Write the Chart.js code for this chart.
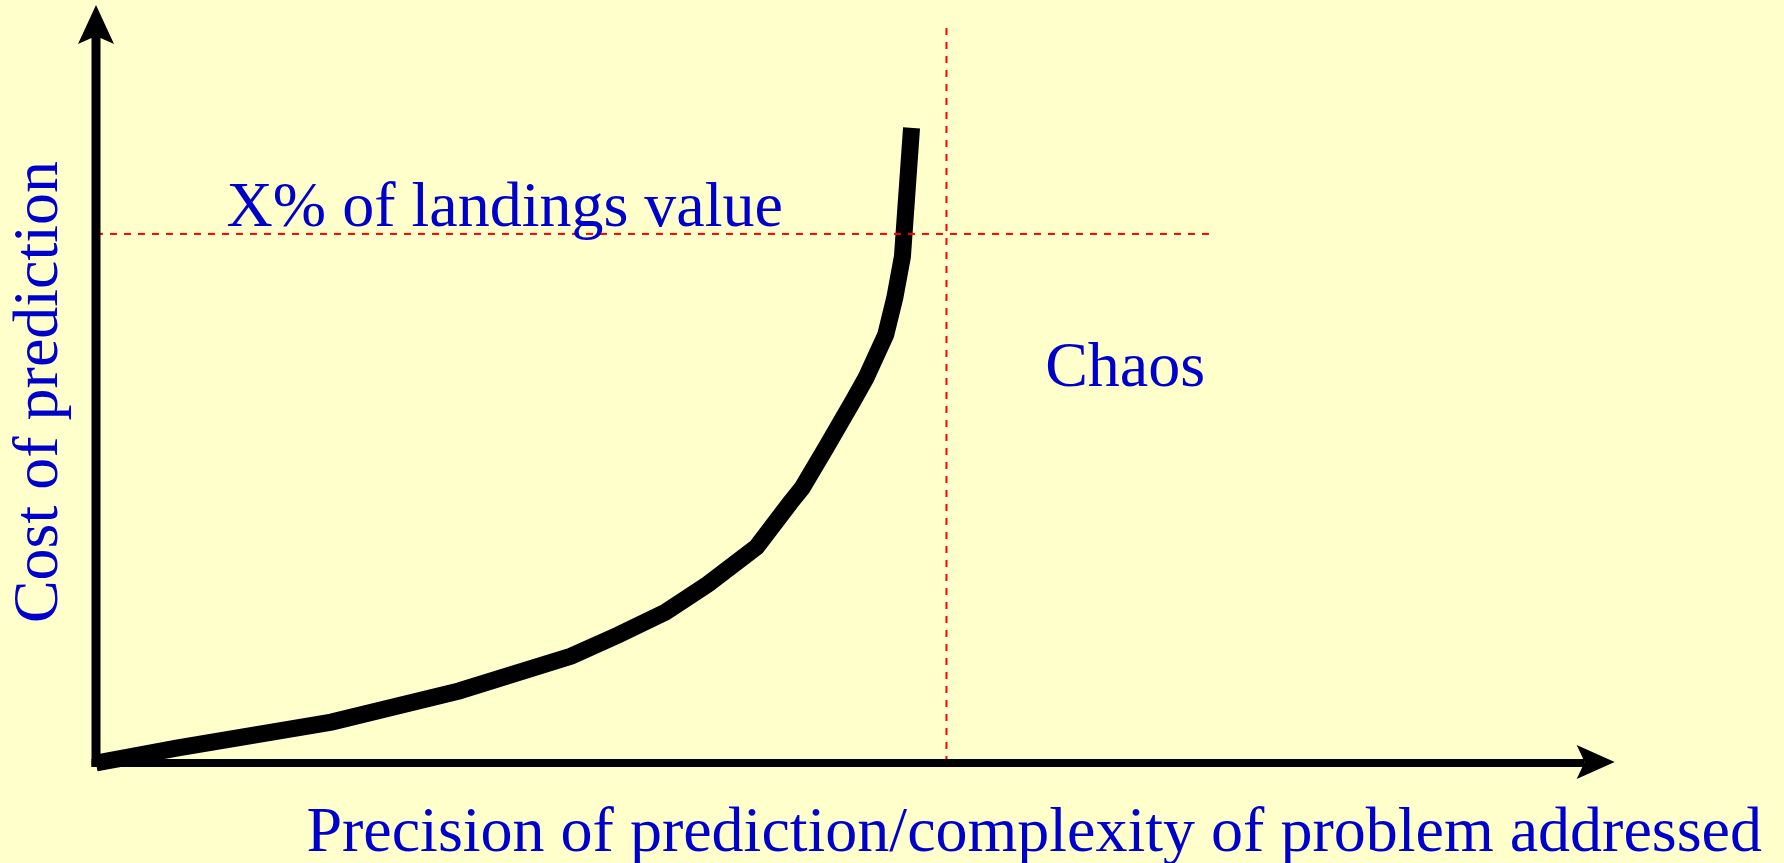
<!DOCTYPE html>
<html>
<head>
<meta charset="utf-8">
<script src="https://cdn.jsdelivr.net/npm/chart.js@4/dist/chart.umd.min.js"></script>
<style>
  html, body { margin: 0; padding: 0; background: #FFFFCC; }
  #wrap { width: 1784px; height: 863px; position: relative; }
</style>
</head>
<body>
<div id="wrap"><canvas id="c" width="1784" height="863"></canvas></div>
<script>
// ---- data (x = precision/complexity, y = cost, arbitrary 0-100 units) ----
const curveX = [0, 5.4, 15.5, 23.9, 31.3, 34.4, 37.5, 40.3, 43.5, 45.7, 46.5, 48.1, 49.8, 50.7, 52.0, 52.6, 53.1, 53.7];
const curveY = [0, 2.0, 5.4, 9.5, 14.1, 16.9, 19.9, 23.6, 28.5, 34.3, 36.3, 41.7, 47.6, 50.8, 56.5, 61.4, 66.8, 83.8];

const thresholdY = 69.8;          // "X% of landings value" level
const thresholdXRange = [0, 73.4];
const chaosX = 56.0;              // onset of chaos
const chaosYRange = [0, 97.6];

const xAxisMax = 109.7;
const yAxisMax = 100;
const xArrowTip = 100;
const yArrowTip = 100;

const xTitle = 'Precision of prediction/complexity of problem addressed';
const yTitle = 'Cost of prediction ';
const labelTexts = ['X% of landings value', 'Chaos'];
const labelX = [8.6, 62.5];
const labelY = [70.8, 49.7];

// ---- styles ----
const BLUE = '#0000CC';
const RED = '#FF0000';
const FONT = '"Liberation Serif", "Times New Roman", "DejaVu Serif", serif';

const curveData = curveX.map((x, i) => ({ x, y: curveY[i] }));
const hLine = thresholdXRange.map(x => ({ x, y: thresholdY }));
const vLine = chaosYRange.map(y => ({ x: chaosX, y }));

const bgPlugin = {
  id: 'bg',
  beforeDraw(chart) {
    const ctx = chart.ctx;
    ctx.save();
    ctx.fillStyle = '#FFFFCC';
    ctx.fillRect(0, 0, chart.width, chart.height);
    ctx.restore();
  }
};

const axesPlugin = {
  id: 'arrowAxes',
  afterDatasetsDraw(chart) {
    const ctx = chart.ctx;
    const xs = chart.scales.x, ys = chart.scales.y;
    const x0 = xs.getPixelForValue(0), y0 = ys.getPixelForValue(0);
    const xt = xs.getPixelForValue(xArrowTip), yt = ys.getPixelForValue(yArrowTip);
    ctx.save();
    ctx.fillStyle = '#000';
    // y axis shaft
    ctx.fillRect(x0 - 4.5, yt + 30, 9, (y0 + 4) - (yt + 30));
    // x axis shaft
    ctx.fillRect(x0 - 4.5, y0 - 4, (xt - 30) - (x0 - 4.5), 8);
    // y arrowhead
    ctx.beginPath();
    ctx.moveTo(x0, yt);
    ctx.lineTo(x0 + 18, yt + 39);
    ctx.lineTo(x0, yt + 31);
    ctx.lineTo(x0 - 18, yt + 39);
    ctx.closePath();
    ctx.fill();
    // x arrowhead
    ctx.beginPath();
    ctx.moveTo(xt, y0 - 1);
    ctx.lineTo(xt - 38, y0 - 18);
    ctx.lineTo(xt - 30, y0 - 1);
    ctx.lineTo(xt - 38, y0 + 16);
    ctx.closePath();
    ctx.fill();
    ctx.restore();
  },
  afterDraw(chart) {
    const ctx = chart.ctx;
    const xs = chart.scales.x, ys = chart.scales.y;
    ctx.save();
    ctx.fillStyle = BLUE;
    ctx.font = '64px ' + FONT;
    ctx.textBaseline = 'alphabetic';
    ctx.textAlign = 'left';
    labelTexts.forEach((t, i) => {
      ctx.fillText(t, xs.getPixelForValue(labelX[i]), ys.getPixelForValue(labelY[i]));
    });
    ctx.restore();
  }
};

new Chart(document.getElementById('c'), {
  type: 'scatter',
  data: {
    datasets: [
      { data: hLine, showLine: true, borderColor: RED, borderWidth: 2, borderDash: [7, 7],
        pointRadius: 0, clip: false, order: 0 },
      { data: vLine, showLine: true, borderColor: RED, borderWidth: 2, borderDash: [7, 7],
        pointRadius: 0, clip: false, order: 0 },
      { data: curveData, showLine: true, borderColor: '#000', borderWidth: 17, tension: 0,
        borderCapStyle: 'butt', borderJoinStyle: 'miter', pointRadius: 0, clip: false, order: 1 }
    ]
  },
  options: {
    responsive: false,
    animation: false,
    devicePixelRatio: 1,
    events: [],
    layout: { autoPadding: false, padding: { left: 0, right: 22, top: 5, bottom: 0 } },
    plugins: { legend: { display: false }, tooltip: { enabled: false }, title: { display: false } },
    scales: {
      x: {
        type: 'linear', min: 0, max: xAxisMax,
        grid: { display: false, drawTicks: false },
        border: { display: false },
        ticks: { display: false },
        title: { display: true, text: xTitle, align: 'end', color: BLUE,
                 font: { family: FONT, size: 64, lineHeight: 0.9 },
                 padding: { top: 42.4, bottom: 0 } }
      },
      y: {
        type: 'linear', min: 0, max: yAxisMax,
        grid: { display: false, drawTicks: false },
        border: { display: false },
        ticks: { display: false },
        title: { display: true, text: yTitle, color: BLUE,
                 font: { family: FONT, size: 64, lineHeight: 1.2 },
                 padding: { top: 2, bottom: 17.2 } }
      }
    }
  },
  plugins: [bgPlugin, axesPlugin]
});
</script>
</body>
</html>
